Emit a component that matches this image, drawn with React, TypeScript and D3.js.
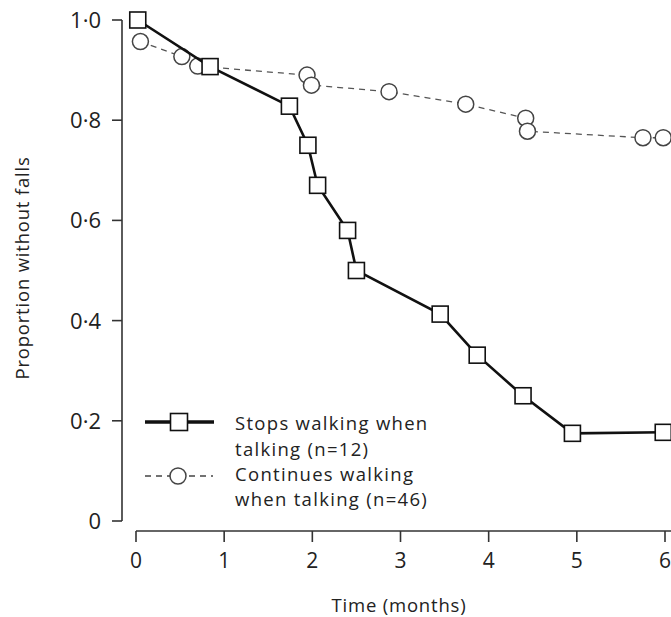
import React from "react";
import * as d3 from "d3";

const stopsX = [0.02, 0.84, 1.74, 1.95, 2.06, 2.4, 2.5, 3.45, 3.87, 4.39, 4.95, 5.98];
const stopsY = [1.0, 0.907, 0.828, 0.75, 0.67, 0.58, 0.5, 0.413, 0.331, 0.25, 0.175, 0.177];
const contX = [0.05, 0.52, 0.7, 1.94, 1.99, 2.87, 3.74, 4.42, 4.44, 5.75, 5.98];
const contY = [0.957, 0.927, 0.908, 0.89, 0.87, 0.857, 0.832, 0.804, 0.778, 0.765, 0.765];
const xTicks = [0, 1, 2, 3, 4, 5, 6];
const yTicks = [0, 0.2, 0.4, 0.6, 0.8, 1.0];
const yTickLabels = ["0", "0·2", "0·4", "0·6", "0·8", "1·0"];
const legendStops = ["Stops walking when", "talking (n=12)"];
const legendCont = ["Continues walking", "when talking (n=46)"];

const W = 671;
const H = 617;
const FONT = "'Open Sans', 'Liberation Sans', sans-serif";

export default function App() {
  const x = d3.scaleLinear().domain([0, 6]).range([136, 665]);
  const y = d3.scaleLinear().domain([0, 1]).range([521, 20]);
  const line = d3.line<[number, number]>().x((d) => x(d[0])).y((d) => y(d[1]));
  const stops: [number, number][] = stopsX.map((v, i) => [v, stopsY[i]]);
  const cont: [number, number][] = contX.map((v, i) => [v, contY[i]]);
  const axisColor = "#333";
  const textColor = "#222";
  const sq = 16;
  const r = 8;
  return (
    <svg width={W} height={H} style={{ position: "absolute", left: 0, top: 0, background: "#fff" }} fontFamily={FONT}>
      <rect x={0} y={0} width={W} height={H} fill="#fff" />
      {/* y axis */}
      <line x1={122} x2={122} y1={y(0)} y2={y(1)} stroke={axisColor} strokeWidth={1.6} />
      {yTicks.map((t, i) => (
        <g key={"yt" + i}>
          <line x1={112} x2={122} y1={y(t)} y2={y(t)} stroke={axisColor} strokeWidth={1.6} />
          <text x={101} y={y(t)} dy="0.36em" textAnchor="end" fontSize={22} fill={textColor}>
            {yTickLabels[i]}
          </text>
        </g>
      ))}
      {/* x axis */}
      <line x1={x(0)} x2={W} y1={531} y2={531} stroke={axisColor} strokeWidth={1.6} />
      {xTicks.map((t) => (
        <g key={"xt" + t}>
          <line x1={x(t)} x2={x(t)} y1={531} y2={542} stroke={axisColor} strokeWidth={1.6} />
          <text x={x(t)} y={560} dy="0.36em" textAnchor="middle" fontSize={21} fill={textColor}>
            {t}
          </text>
        </g>
      ))}
      <text x={399} y={605} dy="0.36em" textAnchor="middle" fontSize={18.5} letterSpacing={0.8} fill={textColor}>
        Time (months)
      </text>
      <text
        transform={`translate(22,268) rotate(-90)`}
        dy="0.36em"
        textAnchor="middle"
        fontSize={18.5}
        letterSpacing={0.8}
        fill={textColor}
      >
        Proportion without falls
      </text>
      {/* continues walking */}
      <path d={line(cont) || ""} fill="none" stroke="#555" strokeWidth={1.3} strokeDasharray="6,5" />
      {cont.map((d, i) => (
        <circle key={"c" + i} cx={x(d[0])} cy={y(d[1])} r={r} fill="#fff" stroke="#444" strokeWidth={1.5} />
      ))}
      {/* stops walking */}
      <path d={line(stops) || ""} fill="none" stroke="#111" strokeWidth={2.6} />
      {stops.map((d, i) => (
        <rect
          key={"s" + i}
          x={x(d[0]) - sq / 2}
          y={y(d[1]) - sq / 2}
          width={sq}
          height={sq}
          fill="#fff"
          stroke="#111"
          strokeWidth={1.6}
        />
      ))}
      {/* legend */}
      <line x1={145} x2={214} y1={422} y2={422} stroke="#111" strokeWidth={3.5} />
      <rect x={179 - 8.5} y={422 - 8.5} width={17} height={17} fill="#fff" stroke="#111" strokeWidth={1.6} />
      <line x1={145} x2={213} y1={476} y2={476} stroke="#444" strokeWidth={1.4} strokeDasharray="6,5" />
      <circle cx={178} cy={476} r={8} fill="#fff" stroke="#444" strokeWidth={1.5} />
      {legendStops.map((s, i) => (
        <text key={"ls" + i} x={235} y={430 + i * 25.5} fontSize={18.5} letterSpacing={1.3} fill={textColor}>
          {s}
        </text>
      ))}
      {legendCont.map((s, i) => (
        <text key={"lc" + i} x={235} y={481 + i * 25} fontSize={18.5} letterSpacing={1.3} fill={textColor}>
          {s}
        </text>
      ))}
    </svg>
  );
}
